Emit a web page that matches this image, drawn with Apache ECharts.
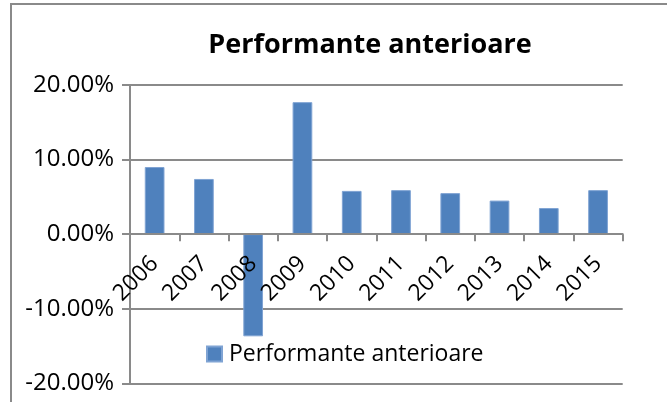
<!DOCTYPE html>
<html>
<head>
<meta charset="utf-8">
<script src="https://cdn.jsdelivr.net/npm/echarts@6/dist/echarts.min.js"></script>
<style>
html,body{margin:0;padding:0;background:#fff;}
#chart{width:667px;height:402px;}
</style>
</head>
<body>
<div id="chart"></div>
<script>
var categories = ['2006','2007','2008','2009','2010','2011','2012','2013','2014','2015'];
var seriesName = 'Performante anterioare';
var values = [9.0, 7.4, -13.7, 17.7, 5.8, 5.9, 5.5, 4.5, 3.5, 5.9];
var titleText = 'Performante anterioare';

var FONT = '"Open Sans", "Noto Sans", sans-serif';
var GRAY = '#8a8a8a';
var GRID_TOP = 85, GRID_BOTTOM = 18.7, H = 402;
var plotH = H - GRID_TOP - GRID_BOTTOM;
var yMin = -20, yMax = 20;
// shift the category axis so it sits on the zero line
var zeroOffset = -plotH * (0 - yMin) / (yMax - yMin);

var chart = echarts.init(document.getElementById('chart'), null, {renderer: 'canvas'});
chart.setOption({
  animation: false,
  backgroundColor: '#ffffff',
  title: {
    text: titleText,
    left: 365,
    textAlign: 'center',
    top: 27,
    textStyle: {fontFamily: FONT, fontWeight: 'bold', fontSize: 27, color: '#000'}
  },
  graphic: [{
    type: 'rect',
    shape: {x: 11, y: 4, width: 700, height: 450},
    style: {fill: 'none', stroke: GRAY, lineWidth: 2},
    silent: true
  }],
  legend: {
    data: [seriesName],
    left: 206,
    top: 342.5,
    padding: 0,
    itemWidth: 15,
    itemHeight: 15,
    icon: 'rect',
    textStyle: {fontFamily: FONT, fontSize: 23, color: '#000', padding: [0, 0, 0, 2]}
  },
  grid: {left: 130, right: 44.3, top: GRID_TOP, bottom: GRID_BOTTOM, containLabel: false, outerBoundsMode: 'none'},
  xAxis: {
    type: 'category',
    data: categories,
    boundaryGap: true,
    position: 'bottom',
    offset: zeroOffset,
    z: 5,
    axisLine: {onZero: false, lineStyle: {color: GRAY, width: 2}},
    axisTick: {show: true, alignWithLabel: false, length: 7, lineStyle: {color: GRAY, width: 2}},
    axisLabel: {rotate: 45, margin: 26, fontFamily: FONT, fontSize: 23, color: '#000', interval: 0},
    splitLine: {show: false}
  },
  yAxis: {
    type: 'value',
    min: yMin,
    max: yMax,
    interval: 10,
    axisLine: {show: true, lineStyle: {color: GRAY, width: 2}},
    axisTick: {show: true, length: 8, lineStyle: {color: GRAY, width: 2}},
    axisLabel: {margin: 16, fontFamily: FONT, fontSize: 24, color: '#000',
      formatter: function (v) { return v.toFixed(2) + '%'; }},
    splitLine: {show: true, lineStyle: {color: GRAY, width: 2}}
  },
  series: [{
    name: seriesName,
    type: 'bar',
    z: 2,
    data: values,
    barWidth: '40%',
    itemStyle: {color: '#4F81BD', borderColor: '#7fa3d3', borderWidth: 1}
  }]
});
</script>
</body>
</html>
